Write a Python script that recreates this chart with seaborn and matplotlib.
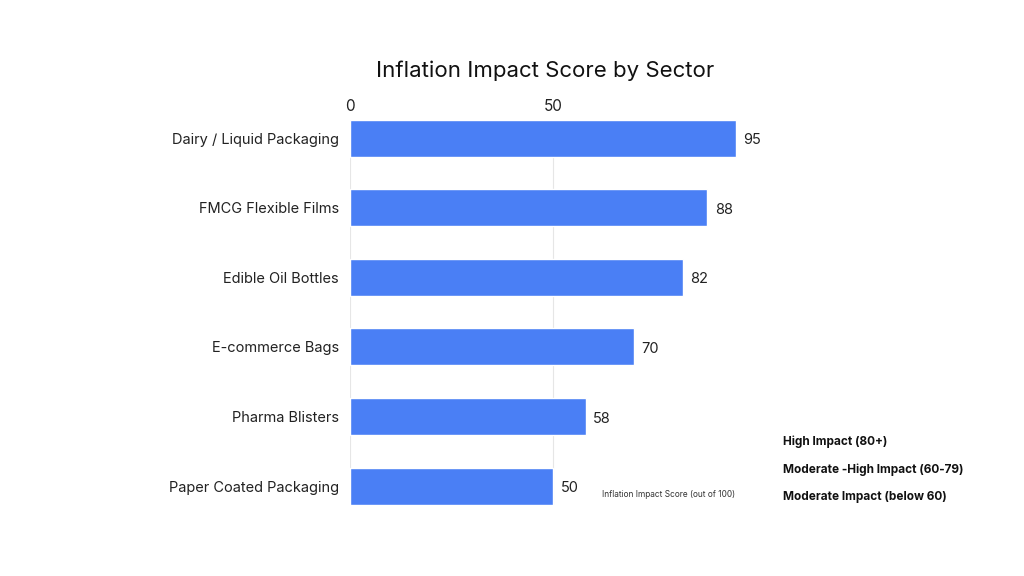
import matplotlib.pyplot as plt
import seaborn as sns
import pandas as pd

# data
sectors = ["Dairy / Liquid Packaging", "FMCG Flexible Films", "Edible Oil Bottles",
           "E-commerce Bags", "Pharma Blisters", "Paper Coated Packaging"]
scores = [95, 88, 82, 70, 58, 50]
legend_labels = ["High Impact (80+)", "Moderate -High Impact (60-79)", "Moderate Impact (below 60)"]

df = pd.DataFrame({"sector": sectors, "score": scores})

sns.set_style("white")
plt.rcParams['font.family'] = ['Inter', 'DejaVu Sans']

fig = plt.figure(figsize=(10.24, 5.76), dpi=100)
ax = fig.add_axes([0.3418, 0.1233, 0.3887, 0.6684])

sns.barplot(data=df, x="score", y="sector", color="#4a7ff5", saturation=1,
            width=0.53, ax=ax, zorder=3)

ax.set_xlim(0, 98)
ax.set_ylim(5.27, -0.26)
ax.set_xticks([0, 50])
ax.xaxis.tick_top()
ax.tick_params(axis="x", length=0, labelsize=11, pad=4, colors="#222222")
ax.tick_params(axis="y", length=0, labelsize=10.5, pad=8, colors="#222222")
ax.grid(axis="x", color="#e6e6e6", linewidth=0.8, zorder=0)
ax.set_xlabel("")
ax.set_ylabel("")
for s in ax.spines.values():
    s.set_visible(False)

for i, v in enumerate(scores):
    ax.text(v + 1.8, i + 0.03, str(v), va="center", ha="left", fontsize=10.5, color="#222222")

fig.text(0.532, 0.878, "Inflation Impact Score by Sector", ha="center", va="center",
         fontsize=16, color="#111111")
fig.text(0.653, 0.141, "Inflation Impact Score (out of 100)", ha="center", va="center",
         fontsize=6, color="#333333")

legend_y = [0.233, 0.185, 0.137]
for lab, y in zip(legend_labels, legend_y):
    fig.text(0.765, y, lab, ha="left", va="center", fontsize=8.5, fontweight="bold",
             color="#111111")

fig.savefig("out.png", dpi=100, facecolor="white")
